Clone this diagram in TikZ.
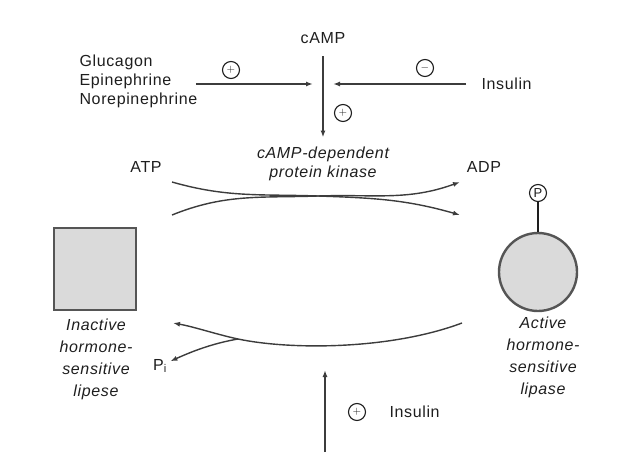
\documentclass[tikz,border=0pt]{standalone}
\usepackage{fontspec}
\setmainfont[LetterSpace=4]{Liberation Sans}
\usetikzlibrary{arrows.meta}
\definecolor{ink}{RGB}{30,30,30}
\definecolor{arrgray}{RGB}{60,60,60}
\definecolor{enzgray}{RGB}{85,85,85}
\definecolor{enzfill}{RGB}{218,218,218}
\tikzset{
  arr/.style={draw=arrgray,line width=1.4pt,-{Latex[length=7pt,width=5pt]}},
  crv/.style={draw=arrgray,line width=1.4pt},
  sgn/.style={circle,draw=ink,line width=1.1pt,minimum size=17pt,inner sep=0pt,text=ink,font=\fontsize{11}{11}\selectfont},
  lab/.style={text=ink,font=\fontsize{16}{19}\selectfont},
  ilab/.style={text=ink,font=\fontsize{16}{22}\selectfont\itshape,align=center},
  enz/.style={draw=enzgray,fill=enzfill,line width=2.4pt,inner sep=0pt},
  every picture/.style={x=1pt,y=-1pt}
}
\begin{document}
\begin{tikzpicture}
  \useasboundingbox (0,0) rectangle (629,460);
  \node[lab] (camp) at (323,38) {cAMP};
  \node[lab,align=left,anchor=west] (horm) at (76,81) {Glucagon\\Epinephrine\\Norepinephrine};
  \node[lab,anchor=west] (insa) at (478,84) {Insulin};
  \node[ilab,font=\fontsize{16}{19}\selectfont\itshape] (pka) at (323,164) {cAMP-dependent\\protein kinase};
  \node[sgn] (s1) at (231,70) {$+$};
  \node[sgn] (s2) at (425,68) {$-$};
  \node[sgn] (s3) at (343,113) {$+$};
  \coordinate (gl) at (313,84); \coordinate (gr) at (333,84);
  \draw[arr,shorten <=-5pt] (horm.east |- gl) -- (gl);
  \draw[arr] ([xshift=-12pt]insa.west) -- (gr);
  \draw[arr,shorten <=9pt,shorten >=6pt] (camp) -- (pka);
  \node[lab] (atp) at (146,167) {ATP};
  \node[lab] (adp) at (484,167) {ADP};
  \coordinate (atpin) at (172,182); \coordinate (hslin) at (172,215);
  \coordinate (adpout) at (460,182); \coordinate (hslout) at (460,215);
  \coordinate (cross) at (318,196);
  \draw[arr] (atpin) to[out=-16,in=178] (cross) to[out=-2,in=164] (hslout);
  \draw[arr] (hslin) to[out=22,in=182] (cross) to[out=2,in=200] (adpout);
  \node[enz,minimum size=82pt] (inact) at (95,269) {};
  \node[enz,circle,minimum size=78pt] (act) at (538,272) {};
  \node[sgn,font=\fontsize{13}{13}\selectfont] (phos) at (538,193) {P};
  \draw[draw=ink,line width=1.2pt] (phos) -- (act);
  \node[ilab] (inactlab) at (96,359) {Inactive\\hormone-\\sensitive\\lipese};
  \node[ilab] (actlab) at (543,357) {Active\\hormone-\\sensitive\\lipase};
  \coordinate (rs) at (462,323); \coordinate (fork) at (238,339); \coordinate (ls) at (173,323);
  \node[lab] (pi) at (160,366) {P\textsubscript{i}};
  \draw[crv] (rs) .. controls (390,350) and (290,350) .. (fork);
  \draw[arr] (fork) .. controls (215,334) and (195,327) .. (ls);
  \draw[arr] (fork) .. controls (215,343) and (195,350) .. (pi);
  \node[sgn] (s4) at (357,412) {$+$};
  \node[lab,anchor=west] (insb) at (386,412) {Insulin};
  \coordinate (ib) at (325,452); \coordinate (it) at (325,370);
  \draw[arr] (ib) -- (it);
\end{tikzpicture}
\end{document}
